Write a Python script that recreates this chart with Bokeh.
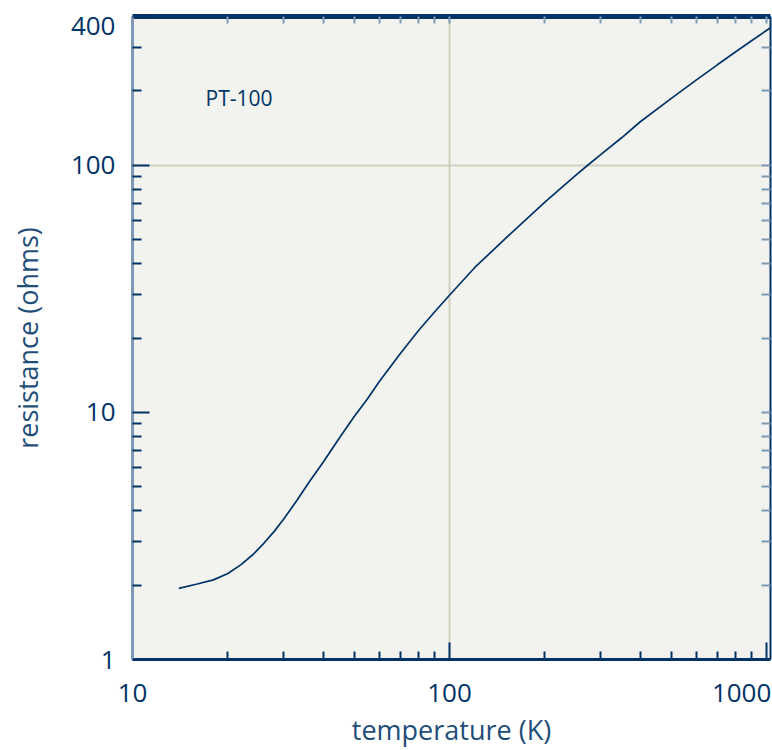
from bokeh.plotting import figure
from bokeh.models import LogAxis, FixedTicker, Label, ColumnDataSource
from bokeh.embed import file_html
from bokeh.resources import INLINE

# ---- data ----
temperature_K = [14, 16, 18, 20, 22, 24, 26, 28, 30, 33, 36, 40, 45, 50, 55, 60, 70, 80, 90,
                 100, 120, 150, 200, 250, 273, 300, 350, 400, 500, 600, 700, 800, 900, 1000, 1030]
resistance_ohm = [1.94, 2.02, 2.1, 2.23, 2.42, 2.66, 2.96, 3.3, 3.7, 4.4, 5.2, 6.3, 7.9, 9.6, 11.3,
                  13.3, 17.3, 21.5, 25.6, 29.8, 38.5, 50.5, 71, 91, 100, 110.5, 129.5, 150, 186,
                  221, 255, 288, 320, 351, 360]

x_major = [10, 100, 1000]
x_minor = [20, 30, 40, 50, 60, 70, 80, 90, 200, 300, 400, 500, 600, 700, 800, 900]
x_tick_labels = ["10", "100", "1000"]
x_tick_label_pos = [10, 100, 835]      # "1000" is right-aligned to the plot edge in the reference
y_major = [1, 10, 100, 400]
y_minor = [2, 3, 4, 5, 6, 7, 8, 9, 20, 30, 40, 50, 60, 70, 80, 90, 200, 300]
y_tick_labels = ["1", "10", "100", "400"]
y_tick_label_pos = [1, 10, 100, 365]   # "400" sits a little below the top edge in the reference
series_label = "PT-100"

NAVY = "#003366"
LIGHT = "#7f9ab5"
GRID = "#cfd0c0"
BG = "#f2f2ee"
TITLE = "#1f4e79"
FONT = "Open Sans"

p = figure(width=772, height=750, x_axis_type="log", y_axis_type="log",
           x_range=(10, 1030), y_range=(1, 400),
           output_backend="svg", toolbar_location=None,
           min_border_left=132, min_border_right=2, min_border_top=16, min_border_bottom=90,
           background_fill_color=BG, border_fill_color="white")
p.outline_line_color = None

src = ColumnDataSource(dict(t=temperature_K, r=resistance_ohm))
p.line("t", "r", source=src, line_color=NAVY, line_width=1.7)

# grid only at 100
p.xgrid.ticker = FixedTicker(ticks=[100])
p.ygrid.ticker = FixedTicker(ticks=[100])
for g in (p.xgrid[0], p.ygrid[0]):
    g.grid_line_color = GRID
    g.grid_line_width = 2


def hide_labels(ax):
    ax.major_label_overrides = {}
    ax.major_label_text_color = None
    ax.major_label_text_font_size = "1px"
    ax.major_label_standoff = 0
    ax.axis_label = None


# bottom axis: line + ticks
xa = p.xaxis[0]
xa.ticker = FixedTicker(ticks=x_major, minor_ticks=x_minor)
hide_labels(xa)
xa.axis_line_color = NAVY
xa.axis_line_width = 3
xa.major_tick_line_color = NAVY
xa.minor_tick_line_color = NAVY
xa.major_tick_line_width = 2
xa.minor_tick_line_width = 2
xa.major_tick_in = 17
xa.major_tick_out = 0
xa.minor_tick_in = 8
xa.minor_tick_out = 0

# bottom labels
xl = LogAxis(ticker=FixedTicker(ticks=x_tick_label_pos, minor_ticks=[]))
xl.major_label_overrides = {v: s for v, s in zip(x_tick_label_pos, x_tick_labels)}
xl.axis_line_color = None
xl.major_tick_line_color = None
xl.minor_tick_line_color = None
xl.major_tick_in = 0
xl.major_tick_out = 0
xl.minor_tick_in = 0
xl.minor_tick_out = 0
xl.major_label_standoff = 24
xl.major_label_text_font = FONT
xl.major_label_text_font_size = "26px"
xl.major_label_text_color = NAVY
xl.axis_label = "temperature (K)"
xl.axis_label_text_font = FONT
xl.axis_label_text_font_size = "27px"
xl.axis_label_text_font_style = "normal"
xl.axis_label_text_color = TITLE
xl.axis_label_standoff = 6
p.add_layout(xl, "below")

# left axis: line + ticks
ya = p.yaxis[0]
ya.ticker = FixedTicker(ticks=y_major, minor_ticks=y_minor)
hide_labels(ya)
ya.axis_line_color = LIGHT
ya.axis_line_width = 3
ya.major_tick_line_color = NAVY
ya.minor_tick_line_color = NAVY
ya.major_tick_line_width = 2
ya.minor_tick_line_width = 2
ya.major_tick_in = 17
ya.major_tick_out = 0
ya.minor_tick_in = 9
ya.minor_tick_out = 0

# left labels
yl = LogAxis(ticker=FixedTicker(ticks=y_tick_label_pos, minor_ticks=[]))
yl.major_label_overrides = {v: s for v, s in zip(y_tick_label_pos, y_tick_labels)}
yl.axis_line_color = None
yl.major_tick_line_color = None
yl.minor_tick_line_color = None
yl.major_tick_in = 0
yl.major_tick_out = 0
yl.minor_tick_in = 0
yl.minor_tick_out = 0
yl.major_label_standoff = 17
yl.major_label_text_font = FONT
yl.major_label_text_font_size = "26px"
yl.major_label_text_color = NAVY
yl.axis_label = "resistance (ohms)"
yl.axis_label_text_font = FONT
yl.axis_label_text_font_size = "27px"
yl.axis_label_text_font_style = "normal"
yl.axis_label_text_color = TITLE
yl.axis_label_standoff = 22
p.add_layout(yl, "left")

# top border axis (thick) and right border axis
top = LogAxis(ticker=FixedTicker(ticks=[], minor_ticks=x_minor + [100, 1000]))
top.axis_line_color = NAVY
top.axis_line_width = 5
top.minor_tick_line_color = LIGHT
top.minor_tick_line_width = 2
top.minor_tick_in = 7
top.minor_tick_out = 0
top.major_tick_out = 0
hide_labels(top)
p.add_layout(top, "above")

right = LogAxis(ticker=FixedTicker(ticks=[], minor_ticks=y_minor + [10, 100]))
right.axis_line_color = NAVY
right.axis_line_width = 2
right.minor_tick_line_color = LIGHT
right.minor_tick_line_width = 2
right.minor_tick_in = 9
right.minor_tick_out = 0
right.major_tick_out = 0
hide_labels(right)
p.add_layout(right, "right")

# series annotation
p.add_layout(Label(x=17, y=187, text=series_label, text_align="left", text_baseline="middle",
                   text_font=FONT, text_font_size="21px", text_color=NAVY))

open("out.html", "w").write(file_html(p, INLINE))
